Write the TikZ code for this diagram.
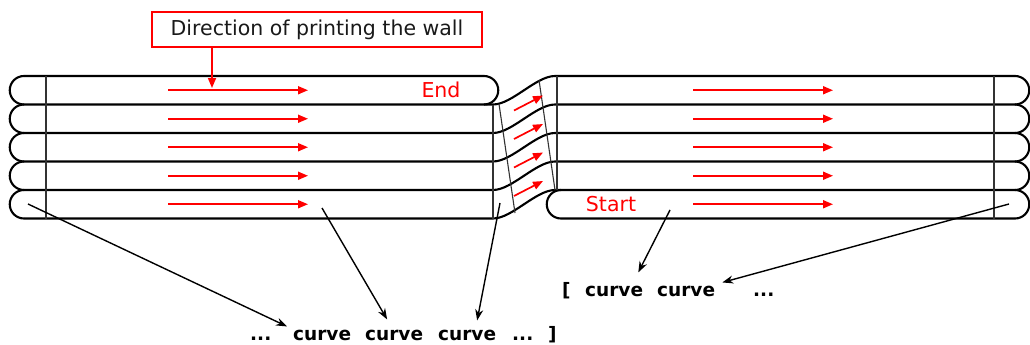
\documentclass[tikz,border=0pt]{standalone}
\usepackage{fontspec}
\setmainfont{DejaVu Sans}
\usetikzlibrary{arrows.meta,calc}
\begin{document}
\begin{tikzpicture}[x=1pt,y=-1pt,
  band/.style={line width=2.1pt, black},
  thinline/.style={line width=1.1pt, black!80},
  redarrow/.style={red, line width=1.7pt, -{Triangle[length=10pt,width=8pt]}},
  callout/.style={-{Stealth[length=11pt,width=8pt]}, line width=1.4pt},
  word/.style={font=\fontsize{18.5}{20}\selectfont\bfseries, inner sep=0pt, anchor=base west},
  redlabel/.style={red, font=\fontsize{20.5}{22}\selectfont, inner sep=0pt}
]
\useasboundingbox (0,0) rectangle (1030,345);

% ---- left block: top row (End) ----
\draw[band] (24,76) -- (484,76) arc[start angle=270, end angle=450, radius=14.25];
% ---- row boundaries continuing through the transition ----
\foreach \k in {1,...,5}{
  \draw[band] (24,{76+28.5*\k}) -- (493,{76+28.5*\k})
    .. controls (512,{76+28.5*\k}) and (536,{47.5+28.5*\k}) .. (555,{47.5+28.5*\k})
    -- (1015,{47.5+28.5*\k});
}
% ---- right block bottom row (Start) ----
\draw[band] (561,190) arc[start angle=270, end angle=90, radius=14.25] -- (1015,218.5);
% ---- rounded ends ----
\foreach \k in {0,...,4}{
  \draw[band] (24,{76+28.5*\k}) arc[start angle=270, end angle=90, radius=14.25];
  \draw[band] (1015,{76+28.5*\k}) arc[start angle=270, end angle=450, radius=14.25];
}
% ---- thin lines ----
\draw[thinline] (46,76) -- (46,218.5);
\draw[thinline] (994,76) -- (994,218.5);
\draw[thinline] (493,104.5) -- (493,218.5);
\draw[thinline] (557,76) -- (557,190);
\draw[thinline] (499,104) -- (515,213);
\draw[thinline] (539,80) -- (555,190);

% ---- red direction arrows ----
\foreach \k in {0,...,4}{
  \draw[redarrow] (168,{90.25+28.5*\k}) -- (308,{90.25+28.5*\k});
  \draw[redarrow] (693,{90.25+28.5*\k}) -- (833,{90.25+28.5*\k});
}
\foreach \k in {0,...,3}{
  \draw[redarrow] (514,{110.5+28.5*\k}) -- (543,{95.5+28.5*\k});
}

% ---- labels ----
\node[redlabel] (endlbl) at (441,90) {End};
\node[redlabel] (startlbl) at (611,204) {Start};

\node[draw=red, line width=1.6pt, minimum width=330pt, minimum height=35pt, inner sep=0pt,
      font=\fontsize{20.5}{22}\selectfont, text=black!90] (box) at (317,29.5) {Direction of printing the wall};
\coordinate (boxtip) at (212,88);
\draw[redarrow] (box.south -| boxtip) -- (boxtip);

% ---- bottom sequence ----
\node[word] (e1) at (250,340) {...};
\node[word] (c1) at (293,340) {curve};
\node[word] (c2) at (365,340) {curve};
\node[word] (c3) at (438,340) {curve};
\node[word] (e2) at (512,340) {...};
\node[word] (b2) at (548,340) {]};

\node[word] (b1) at (562,296) {[};
\node[word] (d1) at (585,296) {curve};
\node[word] (d2) at (657,296) {curve};
\node[word] (e3) at (753,296) {...};

% ---- callout arrows ----
\coordinate (s1) at (28,204);
\coordinate (s2) at (322,208);
\coordinate (s3) at (500,203);
\coordinate (s4) at (670,210);
\coordinate (s5) at (1009,204);
\draw[callout] (s1) -- ($(c1.north west)+(-6,-3)$);
\draw[callout] (s2) -- ($(c2.north)+(-7,-10)$);
\draw[callout] (s3) -- ($(c3.north)+(10,-9)$);
\draw[callout] (s4) -- ($(d1.north east)+(-5,-13)$);
\draw[callout] (s5) -- ($(d2.north east)+(7,-3)$);
\end{tikzpicture}
\end{document}
